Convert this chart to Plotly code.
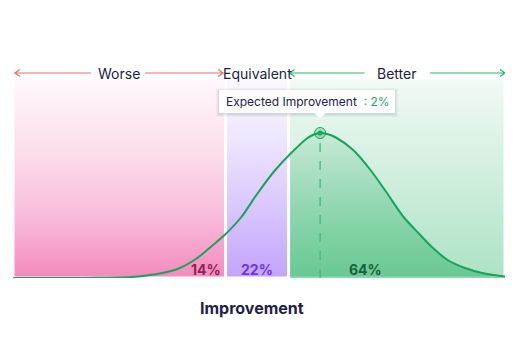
import plotly.graph_objects as go

# ---- data ----
improvement = [-7.75, -6.5, -5.5, -4.75, -4.0, -3.5, -3.0, -2.45, -1.9, -1.4, -1.0, -0.5, 0.0, 0.55,
               1.05, 1.6, 1.8, 2.0, 2.2, 2.5, 3.05, 3.6, 4.1, 4.65, 5.15, 5.55, 6.05, 6.6, 7.15, 7.87]
density = [0.0, 0.0, 0.0001, 0.0003, 0.001, 0.0025, 0.005, 0.010, 0.020, 0.033, 0.044, 0.061, 0.084, 0.107,
           0.124, 0.140, 0.1435, 0.145, 0.1443, 0.1405, 0.128, 0.108, 0.086, 0.061, 0.044, 0.031, 0.018,
           0.010, 0.005, 0.0015]
region_names = ["Worse", "Equivalent", "Better"]
region_bounds = [(-7.75, -1.0), (-1.0, 1.0), (1.0, 7.87)]
region_share = ["14%", "22%", "64%"]
expected_improvement = 2.0

FONT = "Inter, 'Noto Sans', sans-serif"
NAVY = "#22204d"
GREEN = "#17a35c"
YTOP = 0.2
YMAX = 0.218

grad = {
    "Worse": [[0, "#f489bc"], [0.3, "#f8badb"], [0.65, "#fcdfec"], [1, "#fff8fb"]],
    "Equivalent": [[0, "#c3a3fb"], [0.35, "#d9c7fd"], [0.7, "#eee6fe"], [1, "#fbf9ff"]],
    "Better": [[0, "#ace3c4"], [0.5, "#cfeedc"], [1, "#f2faf6"]],
}

fig = go.Figure()
for name, (a, b) in zip(region_names, region_bounds):
    fig.add_trace(go.Scatter(
        x=[a, b, b, a, a], y=[0, 0, YTOP, YTOP, 0], mode="lines", fill="toself",
        line=dict(color="white", width=3),
        fillgradient=dict(type="vertical", colorscale=grad[name]),
        hoverinfo="skip", showlegend=False))

# darker fill under the curve in the "Better" region
bx = [x for x in improvement if x > region_bounds[2][0]]
by = [y for x, y in zip(improvement, density) if x > region_bounds[2][0]]
fig.add_trace(go.Scatter(
    x=bx, y=by, mode="lines", line=dict(width=0, shape="spline", smoothing=0.8), fill="tozeroy",
    fillgradient=dict(type="vertical", colorscale=[[0, "rgba(30,170,95,0.48)"], [1, "rgba(30,170,95,0.12)"]]),
    hoverinfo="skip", showlegend=False))

# curve
fig.add_trace(go.Scatter(
    x=improvement, y=density, mode="lines",
    line=dict(color=GREEN, width=2, shape="spline", smoothing=0.8),
    hoverinfo="skip", showlegend=False))

peak_y = max(density)
peak_x = improvement[density.index(peak_y)]

fig.add_shape(type="line", x0=peak_x, x1=peak_x, y0=0, y1=peak_y,
              line=dict(color="#3dbb76", width=1.3, dash="dash"), layer="above")

fig.add_trace(go.Scatter(
    x=[peak_x], y=[peak_y], mode="markers",
    marker=dict(size=11, color="rgba(23,163,92,0.25)", line=dict(color=GREEN, width=1)),
    hoverinfo="skip", showlegend=False))
fig.add_trace(go.Scatter(
    x=[peak_x], y=[peak_y], mode="markers",
    marker=dict(size=5, color=GREEN),
    hoverinfo="skip", showlegend=False))

# tooltip box (shadow + white box + pointer)
for pad, op in [(3, 0.035), (2, 0.045), (1, 0.06)]:
    fig.add_shape(type="rect", xref="x", yref="y", xsizemode="pixel", ysizemode="pixel",
                  xanchor=peak_x, yanchor=peak_y,
                  x0=-101 - pad, x1=75 + pad, y0=20 - pad - 1, y1=43 + pad - 1,
                  fillcolor=f"rgba(40,40,80,{op})", line=dict(width=0), layer="above")
fig.add_shape(type="rect", xref="x", yref="y", xsizemode="pixel", ysizemode="pixel",
              xanchor=peak_x, yanchor=peak_y, x0=-101, x1=75, y0=20, y1=43,
              fillcolor="white", line=dict(width=0), layer="above")
fig.add_shape(type="path", xref="x", yref="y", xsizemode="pixel", ysizemode="pixel",
              xanchor=peak_x, yanchor=peak_y, path="M -6,20.5 L 6,20.5 L 0,14 Z",
              fillcolor="white", line=dict(width=0), layer="above")
fig.add_annotation(x=peak_x, y=peak_y, xref="x", yref="y", xshift=-12, yshift=31.5,
                   text="Expected Improvement \u00a0<span style='color:#22a760'>: " + f"{expected_improvement:g}%" + "</span>",
                   showarrow=False, font=dict(family=FONT, size=12, color=NAVY),
                   xanchor="center", yanchor="middle")

# region headers with arrows
HY = 1.0 - 13 / 218  # header line at y=73px
hdr_colors = {"Worse": "#ef6f6f", "Better": "#2fb36a"}
centers = [(a + b) / 2 for a, b in region_bounds]
for name, c in zip(region_names, centers):
    fig.add_annotation(x=c, y=HY, xref="x", yref="paper", text=name, showarrow=False,
                       font=dict(family=FONT, size=14, color=NAVY), xanchor="center", yanchor="middle")

def arrow(x_head, length, direction, color):
    # direction -1: head points left, +1: head points right
    d = direction
    path = f"M {-d*length},0 L 0,0 M {-d*5},3.5 L 0,0 L {-d*5},-3.5"
    fig.add_shape(type="path", xref="x", yref="paper", xsizemode="pixel", ysizemode="pixel",
                  xanchor=x_head, yanchor=HY, path=path,
                  line=dict(color=color, width=1.2), layer="above")

w0, w1 = region_bounds[0]
b0, b1 = region_bounds[2]
arrow(w0 + 0.06, 76, -1, hdr_colors["Worse"])
arrow(w1 - 0.08, 78, +1, hdr_colors["Worse"])
arrow(b0 + 0.03, 75, -1, hdr_colors["Better"])
arrow(b1 - 0.0, 75, +1, hdr_colors["Better"])

# shares
fig.add_annotation(x=region_bounds[0][1] - 0.07, y=0.009, text=region_share[0], showarrow=False,
                   xanchor="right", yanchor="middle",
                   font=dict(family=FONT, size=14, color="#8c2658", weight="bold"))
fig.add_annotation(x=centers[1], y=0.009, text=region_share[1], showarrow=False,
                   xanchor="center", yanchor="middle",
                   font=dict(family=FONT, size=14, color="#7434e6", weight="bold"))
fig.add_annotation(x=3.43, y=0.009, text=region_share[2], showarrow=False,
                   xanchor="center", yanchor="middle",
                   font=dict(family=FONT, size=14, color="#17613d", weight="bold"))

fig.add_annotation(x=(251.5 - 13) / 492, y=-30 / 218, xref="paper", yref="paper", text="Improvement",
                   showarrow=False, xanchor="center", yanchor="middle",
                   font=dict(family=FONT, size=16, color=NAVY, weight="bold"))

# page body has an 8px margin, so the figure is drawn 8px smaller and offset
fig.update_layout(
    width=509, height=348, margin=dict(l=5, r=12, t=52, b=78),
    paper_bgcolor="white", plot_bgcolor="white",
    xaxis=dict(range=[-7.75, 7.87], visible=False, fixedrange=True),
    yaxis=dict(range=[0, YMAX], visible=False, fixedrange=True),
    showlegend=False,
)
fig.write_html("out.html")
